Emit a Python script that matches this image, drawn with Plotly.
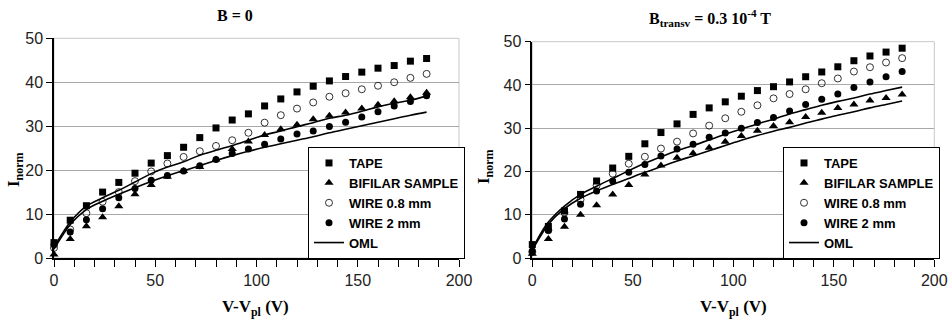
import plotly.graph_objects as go

# ---------------- data ----------------
V = [0, 8, 16, 24, 32, 40, 48, 56, 64, 72, 80, 88, 96, 104, 112, 120,
     128, 136, 144, 152, 160, 168, 176, 184]

# Left panel: B = 0
tape_L = [3.5, 8.6, 11.9, 15.0, 17.2, 19.3, 21.6, 23.3, 25.2, 27.4, 29.6, 31.4,
          32.8, 34.6, 36.2, 37.8, 39.1, 40.3, 41.3, 42.3, 43.2, 43.8, 44.8, 45.4]
bifilar_L = [0.8, 4.3, 7.2, 9.3, 11.8, 14.5, 16.6, 18.5, 19.8, 20.7, 22.4, 24.8,
             26.5, 28.0, 29.3, 30.3, 31.6, 32.4, 33.1, 34.0, 34.9, 35.7, 36.6, 37.6]
wire08_L = [2.3, 6.5, 10.2, 12.8, 15.0, 17.5, 19.7, 21.5, 23.0, 24.3, 25.5, 26.8,
            28.5, 30.8, 32.5, 34.0, 35.4, 36.7, 37.5, 38.4, 39.2, 40.0, 41.0, 41.9]
wire2_L = [3.0, 5.9, 8.7, 11.2, 13.7, 15.8, 17.7, 18.8, 19.8, 21.0, 22.4, 23.8,
           24.8, 25.9, 27.1, 28.2, 28.9, 29.9, 30.9, 32.1, 33.3, 34.6, 35.6, 36.9]

V_OML = [0, 4, 8, 16, 24, 32, 40, 48, 56, 64, 72, 80, 88, 96, 104, 112, 120,
         128, 136, 144, 152, 160, 168, 176, 184]
omlA_L = [2.5, 5.5, 8.2, 11.8, 13.7, 15.4, 17.3, 19.2, 20.7, 21.9, 23.4, 24.5, 25.6,
          26.8, 28.0, 28.9, 29.9, 30.8, 31.8, 32.5, 33.4, 34.4, 35.2, 35.9, 36.9]
omlB_L = [2.0, 5.0, 7.6, 11.0, 12.9, 14.5, 16.0, 17.4, 18.7, 19.9, 21.0, 22.2, 23.3,
          24.3, 25.2, 26.0, 26.8, 27.6, 28.5, 29.3, 30.1, 30.9, 31.7, 32.5, 33.2]

# Right panel: B_transv = 0.3e-4 T
tape_R = [3.1, 7.3, 10.9, 14.7, 17.8, 20.8, 23.5, 26.4, 29.0, 31.0, 33.2, 34.7,
          36.1, 37.4, 38.7, 39.6, 40.7, 41.9, 43.0, 44.2, 45.6, 46.7, 47.6, 48.5]
bifilar_R = [1.0, 4.4, 7.2, 10.0, 12.2, 14.7, 16.9, 19.3, 21.4, 23.2, 24.2, 25.5,
             26.9, 28.2, 29.4, 30.5, 31.4, 32.6, 33.6, 34.7, 35.5, 36.4, 37.0, 37.8]
wire08_R = [1.4, 6.4, 10.5, 13.5, 16.8, 19.5, 21.8, 23.4, 25.3, 26.9, 28.8, 30.6,
            32.3, 33.8, 35.3, 36.9, 37.9, 39.0, 40.4, 41.5, 43.1, 44.1, 45.2, 46.2]
wire2_R = [1.6, 6.4, 9.0, 12.4, 15.5, 17.8, 19.8, 21.6, 23.6, 25.2, 26.3, 27.9,
           28.9, 30.0, 31.3, 32.5, 34.0, 35.5, 36.7, 37.9, 39.4, 40.7, 41.9, 43.1]
omlA_R = [2.0, 5.5, 8.3, 12.0, 14.7, 16.6, 18.4, 20.2, 21.9, 23.4, 24.8, 26.0, 27.3,
          28.6, 29.8, 31.0, 32.1, 33.3, 34.3, 35.3, 36.2, 37.0, 37.9, 38.7, 39.5]
omlB_R = [1.8, 5.0, 7.8, 11.4, 13.8, 15.5, 17.0, 18.4, 19.8, 21.1, 22.4, 23.6, 24.8,
          26.0, 27.2, 28.3, 29.3, 30.2, 31.2, 32.1, 33.0, 33.8, 34.7, 35.5, 36.3]

series_names = ["TAPE", "BIFILAR SAMPLE", "WIRE 0.8 mm", "WIRE 2 mm", "OML"]
x_ticks = [0, 50, 100, 150, 200]
y_ticks = [0, 10, 20, 30, 40, 50]
titles = ["<b>B = 0</b>", "<b>B<sub>transv</sub> = 0.3 10<sup>-4</sup> T</b>"]
x_title = "<b>V-V<sub>pl</sub> (V)</b>"
y_title = "<b>I<sub>norm</sub></b>"

# ---------------- figure ----------------
W, H = 951, 321
fig = go.Figure()

panels = [
    dict(xa="x", ya="y", leg="legend", data=[tape_L, bifilar_L, wire08_L, wire2_L],
         oml=[omlA_L, omlB_L]),
    dict(xa="x2", ya="y2", leg="legend2", data=[tape_R, bifilar_R, wire08_R, wire2_R],
         oml=[omlA_R, omlB_R]),
]
markers = [
    dict(symbol="square", size=7, color="black"),
    dict(symbol="triangle-up", size=8, color="black"),
    dict(symbol="circle-open", size=7, color="black", line=dict(width=0.8, color="#333")),
    dict(symbol="circle", size=7, color="black"),
]

for p in panels:
    for i, ys in enumerate(p["data"]):
        fig.add_trace(go.Scatter(
            x=V, y=ys, mode="markers", name=series_names[i], marker=markers[i],
            xaxis=p["xa"], yaxis=p["ya"], legend=p["leg"], cliponaxis=False))
    for j, ys in enumerate(p["oml"]):
        fig.add_trace(go.Scatter(
            x=V_OML, y=ys, mode="lines", name="OML",
            line=dict(color="black", width=1.6, shape="spline"),
            xaxis=p["xa"], yaxis=p["ya"], legend=p["leg"], showlegend=(j == 0),
            cliponaxis=False))

tickfont = dict(family="Liberation Sans, Arial, sans-serif", size=16, color="#222")
ax_common = dict(showline=True, linecolor="black", linewidth=1.5, ticks="outside",
                 tickcolor="black", tickfont=tickfont, zeroline=False, automargin=False)

xdom = [(54 / W, 459 / W), (532.3 / W, 934.3 / W)]
ydom = [(1 - 258 / H, 1 - 38.3 / H), (1 - 258 / H, 1 - 41.7 / H)]

for k, (xn, yn) in enumerate([("xaxis", "yaxis"), ("xaxis2", "yaxis2")]):
    fig.layout[xn] = dict(domain=xdom[k], range=[0, 200], tickvals=x_ticks, ticklen=7,
                          showgrid=False, anchor="y" if k == 0 else "y2",
                          minor=dict(dtick=10, ticks="outside", ticklen=7, tickcolor="black",
                                     showgrid=False),
                          **ax_common)
    fig.layout[yn] = dict(domain=ydom[k], range=[0, 50], tickvals=y_ticks, ticklen=6,
                          showgrid=True, gridcolor="#a8a8a8", gridwidth=1,
                          anchor="x" if k == 0 else "x2", **ax_common)

# light grey frame (top & right)
for xr, yr in [("x domain", "y domain"), ("x2 domain", "y2 domain")]:
    fig.add_shape(type="rect", xref=xr, yref=yr, x0=0, x1=1, y0=0, y1=1,
                  line=dict(color="#c8c8c8", width=1), layer="below")

legfont = dict(family="Liberation Sans, Arial, sans-serif", size=13, color="black",
               weight="bold")
for name, lx in [("legend", 308 / W), ("legend2", 783 / W)]:
    fig.layout[name] = dict(x=lx, y=1 - 147 / H, xanchor="left", yanchor="top",
                            bgcolor="white", bordercolor="black", borderwidth=1,
                            font=legfont, itemwidth=30, tracegroupgap=0)

serif = "Liberation Serif, Times New Roman, serif"
anns = []
for cx, cy, t in [(235, 15, titles[0]), (710, 18, titles[1])]:
    anns.append(dict(x=cx / W, y=1 - cy / H, xref="paper", yref="paper", text=t,
                     xanchor="center", yanchor="middle", showarrow=False,
                     font=dict(family=serif, size=16, color="black")))
for cx in [255, 733]:
    anns.append(dict(x=cx / W, y=1 - 308 / H, xref="paper", yref="paper", text=x_title,
                     xanchor="center", yanchor="middle", showarrow=False,
                     font=dict(family=serif, size=17, color="black")))
for cx, cy in [(15, 170), (485, 167)]:
    anns.append(dict(x=cx / W, y=1 - cy / H, xref="paper", yref="paper", text=y_title,
                     xanchor="center", yanchor="middle", showarrow=False, textangle=-90,
                     font=dict(family=serif, size=17, color="black")))

fig.update_layout(width=W, height=H, margin=dict(l=0, r=0, t=0, b=0, autoexpand=False),
                  paper_bgcolor="white", plot_bgcolor="white", annotations=anns)

fig.write_html("out.html", config={"displayModeBar": False},
               post_script="document.body.style.margin='0';document.body.style.overflow='hidden';")
